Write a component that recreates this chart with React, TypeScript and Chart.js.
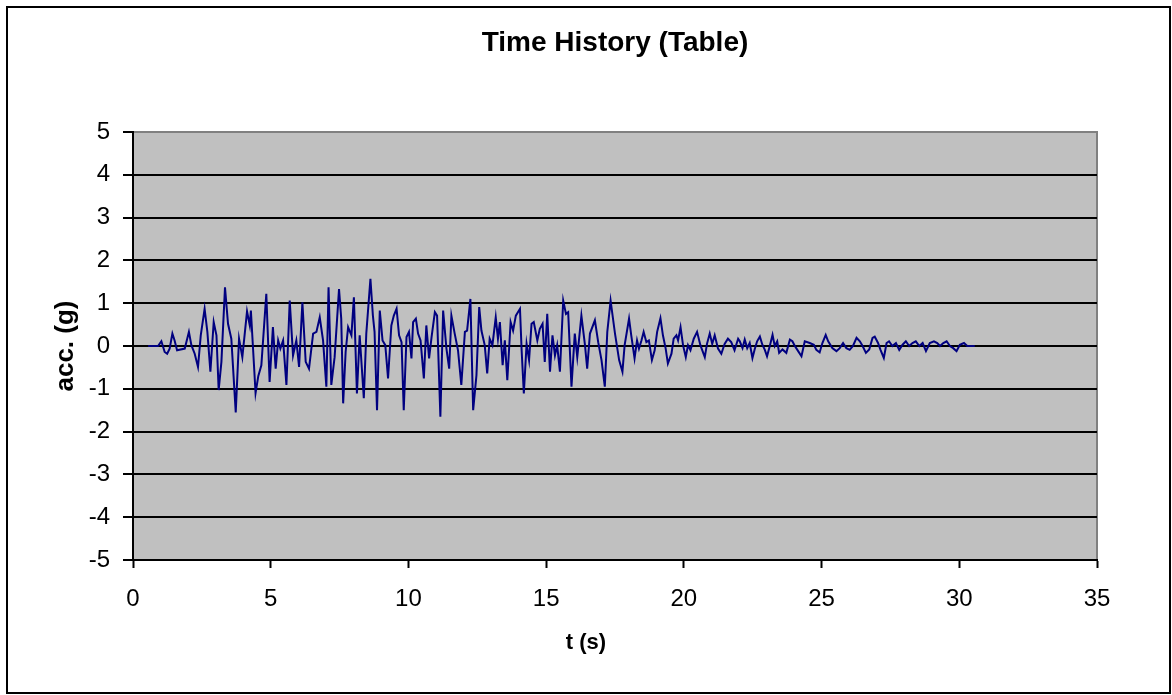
import React, { useEffect, useRef } from "react";
import { Chart, registerables } from "chart.js";

Chart.register(...registerables);

const FONT = '"Liberation Sans", Arial, Helvetica, sans-serif';

const chartTitle = "Time History (Table)";
const xTitle = "t (s)";
const yTitle = "acc. (g)";

const xMin = 0;
const xMax = 35;
const xStep = 5;
const yMin = -5;
const yMax = 5;
const yStep = 1;

// time (s)
const times = [
  0.55, 0.91, 1.03, 1.15, 1.24, 1.33, 1.43, 1.51, 1.6, 1.88, 2.03, 2.12, 2.24, 2.36, 2.46, 2.6, 2.7, 2.81, 2.93,
  3.03, 3.11, 3.21, 3.34, 3.45, 3.57, 3.73, 3.85, 3.97, 4.14, 4.24, 4.28, 4.45, 4.55, 4.66, 4.84, 4.96, 5.08,
  5.18, 5.27, 5.35, 5.45, 5.57, 5.69, 5.81, 5.93, 6.03, 6.15, 6.27, 6.39, 6.54, 6.66, 6.78, 6.9, 7.02, 7.1, 7.2,
  7.32, 7.48, 7.56, 7.63, 7.72, 7.81, 7.93, 8.02, 8.13, 8.23, 8.38, 8.47, 8.62, 8.71, 8.77, 8.86, 8.96, 9.06,
  9.16, 9.26, 9.38, 9.47, 9.57, 9.66, 9.75, 9.83, 9.93, 10.02, 10.11, 10.17, 10.27, 10.35, 10.44, 10.56, 10.65,
  10.75, 10.84, 10.96, 11.04, 11.16, 11.26, 11.38, 11.48, 11.56, 11.68, 11.8, 11.92, 12.05, 12.13, 12.25, 12.35,
  12.47, 12.57, 12.65, 12.77, 12.86, 12.95, 13.05, 13.17, 13.25, 13.32, 13.42, 13.5, 13.59, 13.71, 13.8, 13.9,
  14.05, 14.11, 14.19, 14.29, 14.38, 14.47, 14.55, 14.68, 14.77, 14.87, 14.95, 15.04, 15.14, 15.23, 15.32, 15.4,
  15.5, 15.62, 15.72, 15.8, 15.92, 16.04, 16.13, 16.28, 16.41, 16.49, 16.59, 16.77, 16.89, 17.01, 17.13, 17.22,
  17.34, 17.5, 17.65, 17.77, 17.85, 18.01, 18.09, 18.21, 18.3, 18.37, 18.46, 18.54, 18.64, 18.73, 18.84, 18.94,
  19.03, 19.15, 19.24, 19.34, 19.42, 19.55, 19.63, 19.73, 19.79, 19.88, 19.97, 20.07, 20.15, 20.24, 20.36, 20.48,
  20.6, 20.76, 20.84, 20.94, 21.03, 21.12, 21.24, 21.36, 21.48, 21.6, 21.72, 21.84, 21.97, 22.03, 22.13, 22.21,
  22.3, 22.39, 22.49, 22.57, 22.66, 22.76, 22.85, 22.94, 23.02, 23.12, 23.22, 23.3, 23.39, 23.46, 23.58, 23.72,
  23.85, 23.94, 24.03, 24.15, 24.27, 24.39, 24.57, 24.72, 24.81, 24.93, 25.03, 25.15, 25.24, 25.39, 25.54, 25.66,
  25.78, 25.9, 26.02, 26.14, 26.27, 26.39, 26.49, 26.61, 26.73, 26.85, 26.93, 27.05, 27.14, 27.26, 27.36, 27.45,
  27.57, 27.7, 27.82, 27.94, 28.06, 28.18, 28.3, 28.42, 28.55, 28.67, 28.79, 28.93, 29.08, 29.2, 29.3, 29.42,
  29.54, 29.66, 29.78, 29.9, 30.02, 30.17, 30.29, 30.56,
];

// acceleration (g)
const accel = [
  0, 0, 0.11, -0.14, -0.18, -0.06, 0.29, 0.13, -0.1, -0.06, 0.33, 0.02, -0.18, -0.49, 0.25, 0.87, 0.33, -0.6, 0.56,
  0.25, -1.03, -0.37, 1.37, 0.52, 0.17, -1.55, 0.17, -0.26, 0.81, 0.48, 0.83, -1.1, -0.7, -0.45, 1.22, -0.84, 0.44,
  -0.53, 0.13, -0.06, 0.13, -0.91, 1.06, -0.22, 0.13, -0.49, 1.02, -0.37, -0.53, 0.29, 0.33, 0.67, 0.13, -0.95, 1.37, -0.91,
  -0.26, 1.33, 0.64, -1.34, -0.14, 0.44, 0.25, 1.14, -1.11, 0.25, -1.22, 0.29, 1.57, 0.71, 0.33, -1.5, 0.83, 0.13,
  0.02, -0.76, 0.48, 0.71, 0.87, 0.25, 0.09, -1.5, 0.21, 0.33, -0.29, 0.56, 0.64, 0.29, 0.13, -0.76, 0.48,
  -0.29, 0.21, 0.79, 0.71, -1.65, 0.83, -0.06, -0.53, 0.71, 0.29, -0.1, -0.91, 0.33, 0.36, 1.1, -1.5,
  -0.68, 0.91, 0.36, 0.02, -0.64, 0.17, 0.02, 0.67, 0.17, 0.56, -0.45, 0.13, -0.8, 0.56, 0.36, 0.71,
  0.87, -0.1, -1.11, 0.05, -0.33, 0.52, 0.56, 0.13, 0.4, 0.52, -0.37, 0.75, -0.6, 0.25, -0.22, 0.02,
  -0.6, 1.06, 0.75, 0.79, -0.95, 0.29, -0.26, 0.71, 0.02, -0.53, 0.29, 0.6, 0.09, -0.33, -0.95, 0.33,
  1.06, 0.29, -0.33, -0.6, 0.02, 0.64, 0.25, -0.29, 0.13, -0.06, 0.13, 0.33, 0.09, 0.13, -0.33, -0.1,
  0.33, 0.65, 0.25, -0.06, -0.41, -0.18, 0.17, 0.25, 0.13, 0.44, 0.02, -0.26, 0.02, -0.1, 0.17, 0.33,
  0.02, -0.26, 0.05, 0.29, 0.05, 0.25, -0.06, -0.18, 0.05, 0.17, 0.09, -0.1, 0.17, 0.11, -0.05, 0.15,
  -0.05, 0.07, -0.28, -0.08, 0.11, 0.22, 0.03, -0.09, -0.24, 0, 0.26, 0, 0.11, -0.16, -0.08, -0.16,
  0.15, 0.11, 0, -0.12, -0.24, 0.11, 0.07, 0.03, -0.09, -0.15, 0.07, 0.26, 0.11, -0.05, -0.12, -0.05,
  0.07, -0.05, -0.09, 0, 0.19, 0.11, 0, -0.16, -0.08, 0.19, 0.22, 0.07, -0.09, -0.28, 0.07, 0.11,
  0, 0.07, -0.09, 0.03, 0.11, 0, 0.07, 0.11, 0, 0.07, -0.12, 0.07, 0.11, 0.07, 0, 0.07,
  0.11, 0, -0.05, -0.12, 0.03, 0.07, 0, 0,
];

const framePlugin = {
  id: "framePlugin",
  beforeDraw(chart: any) {
    const { ctx, chartArea } = chart;
    const { left, top, right, bottom } = chartArea;
    ctx.save();
    ctx.fillStyle = "#ffffff";
    ctx.fillRect(0, 0, chart.width, chart.height);
    ctx.strokeStyle = "#000000";
    ctx.lineWidth = 2;
    ctx.strokeRect(7, 7, 1163, 686);
    ctx.fillStyle = "#c0c0c0";
    ctx.fillRect(left, top, right - left, bottom - top);
    ctx.strokeStyle = "#808080";
    ctx.lineWidth = 2;
    ctx.strokeRect(left, top, right - left, bottom - top);
    ctx.restore();
  },
  afterDraw(chart: any) {
    const { ctx, chartArea } = chart;
    const { left, right, top, bottom } = chartArea;
    ctx.save();
    ctx.fillStyle = "#000000";
    ctx.textAlign = "center";
    ctx.textBaseline = "alphabetic";
    ctx.font = `bold 28px ${FONT}`;
    ctx.fillText(chartTitle, (left + right) / 2, 51);
    ctx.font = `bold 22px ${FONT}`;
    ctx.fillText(xTitle, 586, 649);
    ctx.translate(73, (top + bottom) / 2);
    ctx.rotate(-Math.PI / 2);
    ctx.font = `bold 26px ${FONT}`;
    ctx.fillText(yTitle, 0, 0);
    ctx.restore();
  },
};

export default function App() {
  const ref = useRef<HTMLCanvasElement | null>(null);

  useEffect(() => {
    if (!ref.current) return;
    const points = times.map((t, i) => ({ x: t, y: accel[i] }));
    const chart = new Chart(ref.current, {
      type: "line",
      data: {
        datasets: [
          {
            data: points,
            borderColor: "#000080",
            borderWidth: 2,
            pointRadius: 0,
            tension: 0,
            fill: false,
          },
        ],
      },
      options: {
        animation: false,
        responsive: false,
        devicePixelRatio: 1,
        layout: { padding: { left: 0, right: 75, top: 132, bottom: 0 } },
        plugins: {
          legend: { display: false },
          title: { display: false },
          tooltip: { enabled: false },
        },
        scales: {
          x: {
            type: "linear",
            min: xMin,
            max: xMax,
            ticks: {
              stepSize: xStep,
              color: "#000",
              font: { family: FONT, size: 24 },
              padding: 17,
              maxRotation: 0,
            },
            grid: {
              drawOnChartArea: false,
              drawTicks: true,
              tickLength: 8,
              tickWidth: 2,
              tickColor: "#000",
            },
            border: { display: true, color: "#000", width: 2 },
            afterFit: (s: any) => {
              s.height = 135;
            },
          },
          y: {
            type: "linear",
            min: yMin,
            max: yMax,
            ticks: {
              stepSize: yStep,
              color: "#000",
              font: { family: FONT, size: 24 },
              padding: 13,
            },
            grid: {
              color: (c: any) => (c.tick && c.tick.value === yMax ? "#808080" : "#000"),
              lineWidth: 2,
              drawTicks: true,
              tickLength: 10,
              tickWidth: 2,
              tickColor: "#000",
            },
            border: { display: true, color: "#000", width: 2 },
            afterFit: (s: any) => {
              s.width = 133;
            },
          },
        },
      },
      plugins: [framePlugin],
    });
    return () => chart.destroy();
  }, []);

  return (
    <div style={{ position: "absolute", left: 0, top: 0, width: 1172, height: 695 }}>
      <canvas ref={ref} width={1172} height={695} style={{ width: 1172, height: 695, display: "block" }} />
    </div>
  );
}
